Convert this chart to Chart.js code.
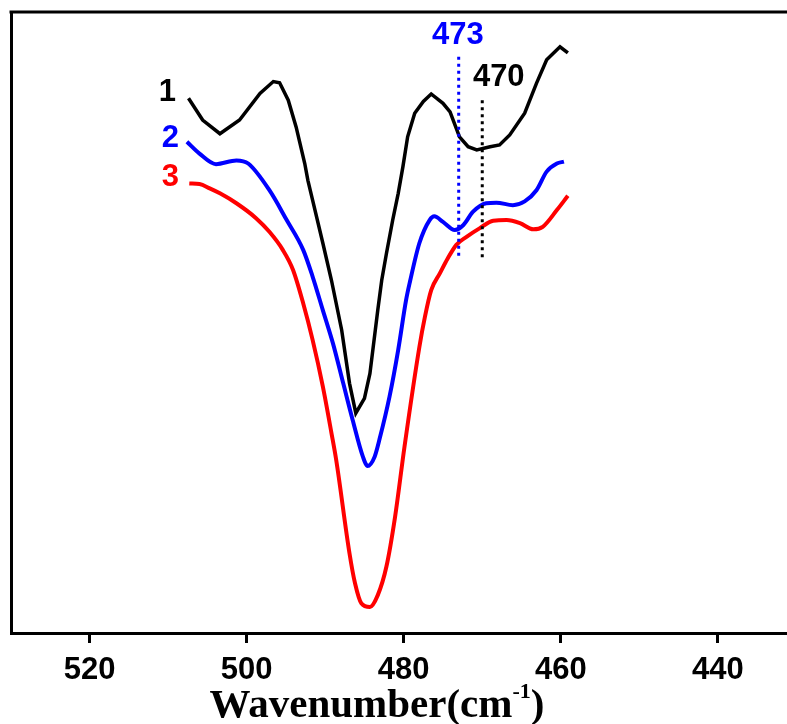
<!DOCTYPE html>
<html>
<head>
<meta charset="utf-8">
<script src="https://cdn.jsdelivr.net/npm/chart.js@4.4.1/dist/chart.umd.min.js"></script>
<style>
  html, body { margin: 0; padding: 0; background: #fff; }
</style>
</head>
<body>
<canvas id="irChart" width="787" height="724"></canvas>
<script>
// wavenumbers (cm-1) and relative transmittance for the three samples
const wn1 = [507.4, 505.6, 503.4, 500.9, 498.3, 496.6, 495.8, 494.7, 493.7, 492.6, 492.2, 491.6, 490.3, 489.2, 487.9, 486.9, 486.1, 485.0, 484.3, 483.3, 482.8, 482.2, 481.4, 480.7, 480.1, 479.5, 478.6, 477.5, 476.5, 475.0, 474.1, 472.9, 471.8, 470.7, 469.0, 467.8, 466.5, 464.6, 463.1, 461.8, 460.1, 459.1];
const t1  = [86.1, 82.6, 80.4, 82.6, 86.9, 88.8, 88.6, 85.8, 81.5, 75.6, 72.9, 69.7, 62.8, 56.8, 48.8, 40.2, 35.4, 37.8, 41.8, 52.0, 56.8, 61.1, 66.5, 70.8, 75.1, 79.9, 83.7, 85.6, 86.8, 85.3, 83.9, 79.9, 78.3, 77.8, 78.3, 78.6, 80.2, 83.7, 88.5, 92.3, 94.4, 93.4];

const wn2 = [507.6, 506.0, 503.9, 501.3, 499.8, 497.1, 494.9, 492.8, 491.6, 490.3, 489.0, 487.7, 486.5, 485.2, 484.6, 483.7, 483.1, 481.8, 480.7, 479.7, 479.2, 478.0, 476.7, 476.1, 475.0, 473.5, 472.4, 471.2, 469.5, 468.2, 466.1, 464.6, 463.1, 461.8, 460.5, 459.6];
const t2  = [79.1, 77.2, 75.5, 76.1, 75.6, 71.3, 66.5, 61.7, 57.4, 52.0, 46.6, 40.2, 34.3, 28.4, 26.9, 28.4, 31.1, 38.1, 45.6, 53.6, 56.6, 62.8, 66.5, 67.1, 66.2, 64.9, 65.7, 67.8, 69.2, 69.3, 68.9, 69.5, 71.3, 74.3, 75.6, 75.9];

const wn3 = [507.3, 506.0, 504.7, 503.4, 501.3, 498.8, 497.1, 495.4, 494.1, 492.8, 491.6, 490.3, 489.2, 488.6, 486.9, 486.2, 485.4, 484.3, 483.3, 482.2, 481.1, 479.9, 478.0, 477.3, 476.5, 475.4, 474.4, 473.3, 472.0, 470.3, 468.6, 466.9, 465.2, 463.5, 462.3, 460.5, 459.1];
const t3  = [72.4, 72.3, 71.6, 70.8, 69.2, 66.8, 64.6, 61.7, 58.5, 53.1, 47.2, 39.7, 32.2, 27.9, 12.8, 8.0, 4.8, 4.2, 6.1, 10.7, 18.7, 30.0, 46.1, 50.9, 55.2, 57.9, 60.3, 62.5, 63.8, 65.2, 66.4, 66.5, 66.0, 65.0, 65.4, 68.1, 70.4];

// marked band positions and the vertical extent of their guide lines
const bandWn = [473, 470];
const bandTop = [92.8, 85.8];
const bandBottom = [60.1, 60.4];

const xTicks = [520, 500, 480, 460, 440];
const curveNames = ['1', '2', '3'];
const axisTitle = 'Wavenumber(cm';
const axisTitleSup = '-1';

const BLACK = '#000000';
const BLUE = '#0000ff';
const RED = '#ff0000';

const toXY = (xs, ys) => xs.map((v, i) => ({ x: v, y: ys[i] }));

// text placed in data units: [text, wavenumber, value, colour]
const tags = [
  [curveNames[0], 510.1, 87.1, BLACK],
  [curveNames[1], 509.7, 79.7, BLUE],
  [curveNames[2], 509.7, 73.3, RED],
  [String(bandWn[0]), 473.1, 96.3, BLUE],
  [String(bandWn[1]), 467.9, 89.5, BLACK]
];

const guide = (i, color) => ({
  data: [{ x: bandWn[i], y: bandTop[i] }, { x: bandWn[i], y: bandBottom[i] }],
  borderColor: color,
  borderWidth: 3,
  borderDash: [3, 4],
  borderCapStyle: 'butt',
  pointRadius: 0,
  tension: 0
});

const decorations = {
  id: 'decorations',
  afterDraw(chart) {
    const { ctx, chartArea, scales: { x, y } } = chart;
    ctx.save();
    // top edge of the frame
    ctx.strokeStyle = BLACK;
    ctx.lineWidth = 3;
    ctx.beginPath();
    ctx.moveTo(chartArea.left - 1.5, chartArea.top);
    ctx.lineTo(chartArea.right, chartArea.top);
    ctx.stroke();

    // curve numbers and band labels
    ctx.font = 'bold 31px "Liberation Sans", Arial, sans-serif';
    ctx.textAlign = 'center';
    ctx.textBaseline = 'middle';
    tags.forEach(([txt, wv, val, col]) => {
      ctx.fillStyle = col;
      ctx.fillText(txt, x.getPixelForValue(wv), y.getPixelForValue(val));
    });

    // x axis title with superscript
    const mainFont = 'bold 41px "Liberation Serif", "Times New Roman", serif';
    const supFont = 'bold 22px "Liberation Serif", "Times New Roman", serif';
    ctx.font = mainFont;
    const wMain = ctx.measureText(axisTitle).width;
    const wClose = ctx.measureText(')').width;
    ctx.font = supFont;
    const wSup = ctx.measureText(axisTitleSup).width;
    const total = wMain + wSup + wClose;
    const baseY = 717;
    let tx = 377 - total / 2;
    ctx.fillStyle = BLACK;
    ctx.textAlign = 'left';
    ctx.textBaseline = 'alphabetic';
    ctx.font = mainFont;
    ctx.fillText(axisTitle, tx, baseY);
    tx += wMain;
    ctx.font = supFont;
    ctx.fillText(axisTitleSup, tx, baseY - 19);
    tx += wSup;
    ctx.font = mainFont;
    ctx.fillText(')', tx, baseY);
    ctx.restore();
  }
};

new Chart(document.getElementById('irChart'), {
  type: 'line',
  data: {
    datasets: [
      guide(0, BLUE),
      guide(1, BLACK),
      { data: toXY(wn1, t1), borderColor: BLACK, borderWidth: 3.5, pointRadius: 0, tension: 0 },
      { data: toXY(wn2, t2), borderColor: BLUE, borderWidth: 4, pointRadius: 0, cubicInterpolationMode: 'monotone' },
      { data: toXY(wn3, t3), borderColor: RED, borderWidth: 4, pointRadius: 0, cubicInterpolationMode: 'monotone' }
    ]
  },
  options: {
    responsive: false,
    animation: false,
    layout: { padding: { left: 11, top: 12, right: 0, bottom: 25.8 } },
    plugins: { legend: { display: false }, tooltip: { enabled: false } },
    scales: {
      x: {
        type: 'linear',
        reverse: true,
        min: 431.2,
        max: 530,
        afterBuildTicks: scale => { scale.ticks = xTicks.map(v => ({ value: v })); },
        ticks: {
          color: BLACK,
          padding: 9,
          maxRotation: 0,
          font: { family: '"Liberation Sans", Arial, sans-serif', size: 31, weight: 'bold' },
          callback: v => v
        },
        grid: { drawOnChartArea: false, drawTicks: true, tickLength: 10, tickWidth: 3, tickColor: BLACK },
        border: { color: BLACK, width: 3 }
      },
      y: {
        min: 0,
        max: 100,
        ticks: { display: false },
        grid: { display: false, drawTicks: false },
        border: { color: BLACK, width: 3 }
      }
    }
  },
  plugins: [decorations]
});
</script>
</body>
</html>
